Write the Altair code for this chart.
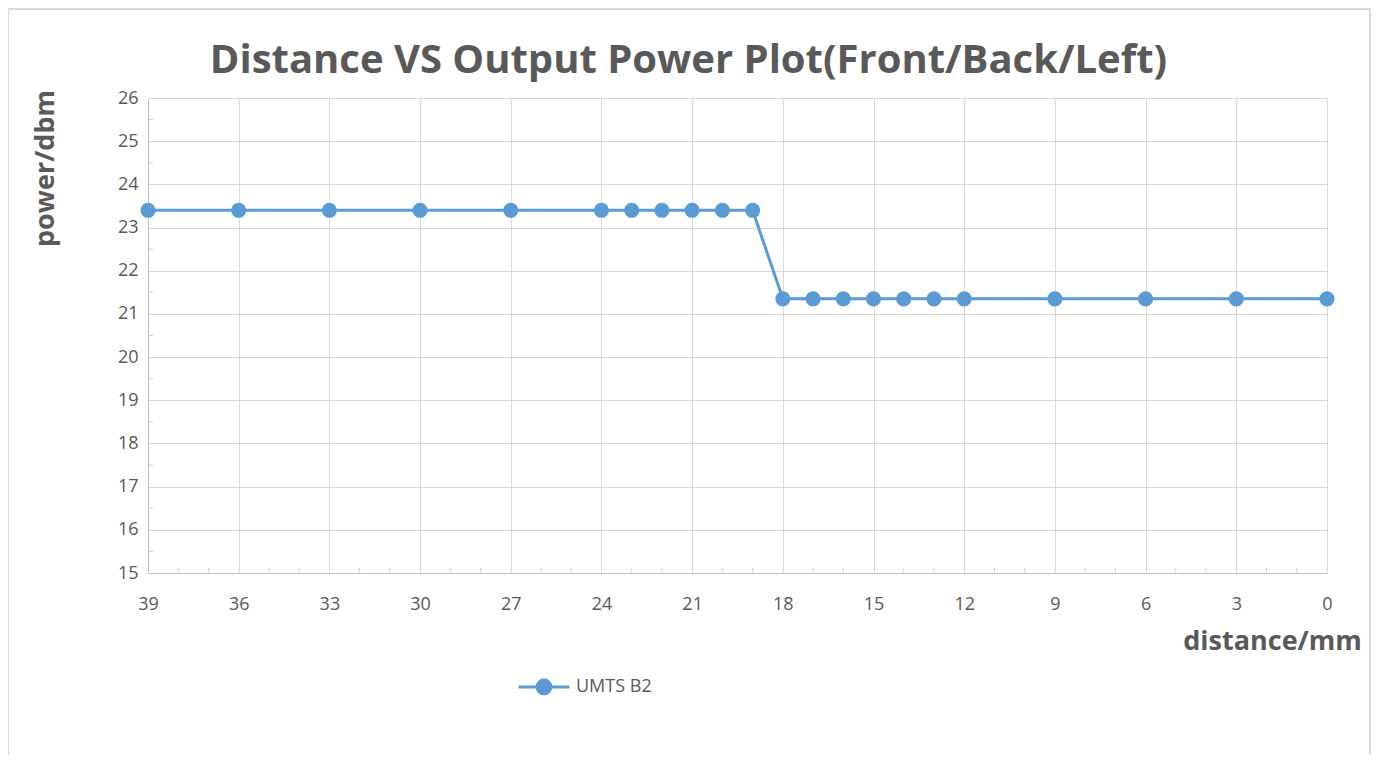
import altair as alt
import pandas as pd

# data
distance = [39, 36, 33, 30, 27, 24, 23, 22, 21, 20, 19,
            18, 17, 16, 15, 14, 13, 12, 9, 6, 3, 0]
power = [23.4, 23.4, 23.4, 23.4, 23.4, 23.4, 23.4, 23.4, 23.4, 23.4, 23.4,
         21.35, 21.35, 21.35, 21.35, 21.35, 21.35, 21.35, 21.35, 21.35, 21.35, 21.35]
series = "UMTS B2"
x_ticks = [39, 36, 33, 30, 27, 24, 21, 18, 15, 12, 9, 6, 3, 0]
y_ticks = [15, 16, 17, 18, 19, 20, 21, 22, 23, 24, 25, 26]
x_minor = [38, 37, 35, 34, 32, 31, 29, 28, 26, 25, 23, 22, 20, 19, 17, 16, 14, 13,
           11, 10, 8, 7, 5, 4, 2, 1]
y_minor = [15.5, 16.5, 17.5, 18.5, 19.5, 20.5, 21.5, 22.5, 23.5, 24.5, 25.5]

df = pd.DataFrame({"distance": distance, "power": power, "series": series})
dfx = pd.DataFrame({"m": x_minor})
dfy = pd.DataFrame({"m": y_minor})

BLUE = "#5B9BD5"
GREY = "#595959"
GRID = "#D9D9D9"
FONT = "Open Sans"

xscale = alt.Scale(domain=[0, 39], reverse=True, nice=False, zero=False)
yscale = alt.Scale(domain=[15, 26], nice=False, zero=False)

xaxis = alt.Axis(values=x_ticks, title="distance/mm", grid=True, gridColor=GRID,
                 ticks=False, domainColor="#BFBFBF", labelFontSize=18,
                 labelColor=GREY, labelFont=FONT, labelPadding=22,
                 titleFont=FONT, titleFontSize=27, titleFontWeight="bold",
                 titleColor=GREY, titleX=1124, titleY=68, titleAlign="center",
                 titleBaseline="middle")
yaxis = alt.Axis(values=y_ticks, title="power/dbm", grid=True, gridColor=GRID,
                 ticks=False, domainColor="#BFBFBF", labelFontSize=18,
                 labelColor=GREY, labelFont=FONT, labelPadding=10,
                 titleFont=FONT, titleFontSize=27, titleFontWeight="bold",
                 titleColor=GREY, titleX=-103, titleY=70, titleAlign="center",
                 titleBaseline="middle", titleAngle=270)

legend_path = "M-1,0L1,0M0.27,0A0.27,0.27,0,1,1,-0.27,0A0.27,0.27,0,1,1,0.27,0"

line = alt.Chart(df).mark_line(color=BLUE, strokeWidth=3).encode(
    x=alt.X("distance:Q", scale=xscale, axis=xaxis),
    y=alt.Y("power:Q", scale=yscale, axis=yaxis),
)
pts = alt.Chart(df).mark_point(filled=True, size=230, opacity=1).encode(
    x=alt.X("distance:Q", scale=xscale),
    y=alt.Y("power:Q", scale=yscale),
    color=alt.Color("series:N", scale=alt.Scale(range=[BLUE]),
                    legend=alt.Legend(title=None, orient="none", legendX=369,
                                      legendY=562, symbolType=legend_path,
                                      symbolSize=2601, symbolStrokeWidth=3,
                                      symbolStrokeColor=BLUE, symbolFillColor=BLUE,
                                      labelFontSize=18, labelColor=GREY,
                                      labelFont=FONT, labelOffset=5)),
)
xminor = alt.Chart(dfx).mark_tick(orient="vertical", size=5, thickness=1,
                                  color="#BFBFBF", yOffset=-2.5).encode(
    x=alt.X("m:Q", scale=xscale),
    y=alt.datum(15, scale=yscale),
)
yminor = alt.Chart(dfy).mark_tick(orient="horizontal", size=5, thickness=1,
                                  color="#BFBFBF", xOffset=2.5).encode(
    y=alt.Y("m:Q", scale=yscale),
    x=alt.datum(39, scale=xscale),
)
frame = alt.Chart(df).mark_rect(fill=None, stroke=GRID, strokeWidth=2, clip=False).encode(
    x=alt.value(-140), x2=alt.value(1222), y=alt.value(-89), y2=alt.value(700)
)

chart = alt.layer(frame, xminor, yminor, line, pts).properties(
    width=1179, height=475,
    title=alt.TitleParams("Distance VS Output Power Plot(Front/Back/Left)",
                          font=FONT, fontSize=40, fontWeight="bold", color=GREY,
                          anchor="middle", dx=-49, offset=8, dy=81),
    autosize=alt.AutoSizeParams(type="none"),
    padding={"left": 140, "top": 90, "right": 44, "bottom": 182},
).configure_view(stroke=None).configure_axis(labelFlush=False)

chart.save("out.html", embed_options={"renderer": "svg", "actions": False})
